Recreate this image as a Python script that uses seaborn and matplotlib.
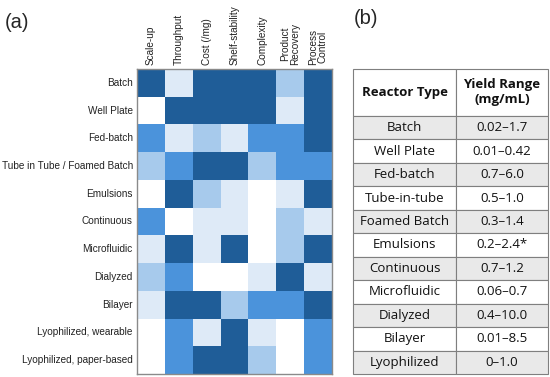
import numpy as np
import pandas as pd
import matplotlib
matplotlib.use("Agg")
import matplotlib.pyplot as plt
from matplotlib.colors import ListedColormap
import seaborn as sns

# === Data ===
reactors = ["Batch", "Well Plate", "Fed-batch", "Tube in Tube / Foamed Batch", "Emulsions",
            "Continuous", "Microfluidic", "Dialyzed", "Bilayer",
            "Lyophilized, wearable", "Lyophilized, paper-based"]
criteria = ["Scale-up", "Throughput", "Cost (/mg)", "Shelf-stability", "Complexity",
            "Product\nRecovery", "Process\nControl"]
# 0 = white ... 4 = dark blue
scores = [
    [4, 1, 4, 4, 4, 2, 4],
    [0, 4, 4, 4, 4, 1, 4],
    [3, 1, 2, 1, 3, 3, 4],
    [2, 3, 4, 4, 2, 3, 3],
    [0, 4, 2, 1, 0, 1, 4],
    [3, 0, 1, 1, 0, 2, 1],
    [1, 4, 1, 4, 0, 2, 4],
    [2, 3, 0, 0, 1, 4, 1],
    [1, 4, 4, 2, 3, 3, 4],
    [0, 3, 1, 4, 1, 0, 3],
    [0, 3, 4, 4, 2, 0, 3],
]

table_types = ["Batch", "Well Plate", "Fed-batch", "Tube-in-tube", "Foamed Batch", "Emulsions",
               "Continuous", "Microfluidic", "Dialyzed", "Bilayer", "Lyophilized"]
yield_ranges = ["0.02\u20131.7", "0.01\u20130.42", "0.7\u20136.0", "0.5\u20131.0", "0.3\u20131.4",
                "0.2\u20132.4*", "0.7\u20131.2", "0.06\u20130.7", "0.4\u201310.0", "0.01\u20138.5",
                "0\u20131.0"]
table_header = ["Reactor Type", "Yield Range\n(mg/mL)"]

palette = ["#ffffff", "#deeaf7", "#a7caec", "#4b93db", "#1f5d98"]

sns.set_theme(style="white")
plt.rcParams["font.family"] = ["Liberation Sans", "DejaVu Sans"]

fig = plt.figure(figsize=(5.5, 3.77), dpi=100)

# === Heatmap (a) ===
ax = fig.add_axes([137 / 550, 3 / 377, 195 / 550, 305 / 377])
df = pd.DataFrame(scores, index=reactors, columns=criteria)
sns.heatmap(df, ax=ax, cmap=ListedColormap(palette), vmin=-0.5, vmax=4.5,
            cbar=False, linewidths=0)
ax.xaxis.tick_top()
ax.tick_params(length=0, pad=3, labelsize=7.2, colors="#222222")
ax.set_xticklabels(criteria, rotation=90, va="bottom", ha="center", linespacing=0.95)
ax.set_yticklabels(reactors, rotation=0)
ax.set_xlabel("")
ax.set_ylabel("")
for s in ax.spines.values():
    s.set_visible(True)
    s.set_color("#8a8a8a")
    s.set_linewidth(1.0)

fig.text(5 / 550, 1 - 22 / 377, "(a)", fontsize=14.5, va="center", ha="left")
fig.text(354 / 550, 1 - 19 / 377, "(b)", fontsize=14.5, va="center", ha="left")

# === Table (b) ===
tax = fig.add_axes([353 / 550, 3 / 377, 195 / 550, 305 / 377])
tax.axis("off")
rows = [[t, y] for t, y in zip(table_types, yield_ranges)]
tbl = tax.table(cellText=rows, colLabels=table_header, cellLoc="center",
                colWidths=[103 / 195, 92 / 195], bbox=[0, 0, 1, 1])
tbl.auto_set_font_size(False)
base_h = tbl[1, 0].get_height()
for (r, c), cell in tbl.get_celld().items():
    cell.set_edgecolor("#7f7f7f")
    cell.set_linewidth(0.8)
    txt = cell.get_text()
    txt.set_fontfamily(["Open Sans", "DejaVu Sans"])
    txt.set_fontsize(9.5)
    txt.set_color("#111111")
    if r == 0:
        cell.set_height(base_h * 2.0)
        cell.set_facecolor("white")
        txt.set_fontweight("bold")
    else:
        cell.set_facecolor("#e9e9e9" if r % 2 == 1 else "white")

fig.savefig("out.png", dpi=100)
